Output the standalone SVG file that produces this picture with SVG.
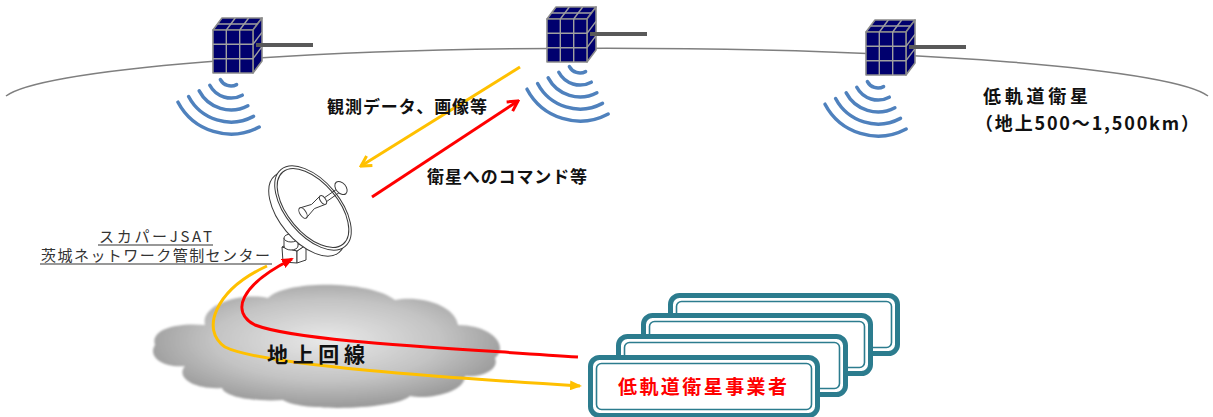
<svg xmlns="http://www.w3.org/2000/svg" xmlns:xlink="http://www.w3.org/1999/xlink" width="1213" height="417" viewBox="0 0 1213 417">
  <style>
    .orbit { fill: none; stroke: #7f7f7f; stroke-width: 1.5; }
    .face { fill: #00006e; stroke: #8a8a8a; stroke-width: 1.6; stroke-linejoin: round; }
    .grid { stroke: #a0a0a0; stroke-width: 1.4; }
    .boom { stroke: #595959; stroke-width: 4; }
    .wave { fill: none; stroke: #4f81bd; stroke-width: 3.5; stroke-linecap: round; }
    .ant { fill: #ffffff; stroke: #3a3a3a; stroke-width: 1; stroke-linejoin: round; }
    .jp { font-family: "Noto Sans CJK JP", "Noto Sans", sans-serif; }
    .lbl { font-size: 17px; font-weight: bold; fill: #111111; }
    .stn { font-size: 15px; fill: #333333; }
    .uline { stroke: #333333; stroke-width: 1.2; }
    .yel { fill: none; stroke: #ffc000; stroke-width: 3; }
    .red { fill: none; stroke: #ff0000; stroke-width: 3; }
    .boxOuter { fill: #ffffff; stroke: #2c7c8e; stroke-width: 5; }
    .boxInner { fill: none; stroke: #2c7c8e; stroke-width: 1.6; }
  </style>
  <defs>
    <!-- cube satellite with side boom, origin at front face top-left -->
    <g id="sat-shape">
      <polygon class="face" points="0,0 40,0 49,-12 9,-12"/>
      <polygon class="face" points="40,0 49,-12 49,31 40,43"/>
      <rect class="face" x="0" y="0" width="40" height="43"/>
      <line class="grid" x1="13.3" y1="0" x2="13.3" y2="43"/>
      <line class="grid" x1="26.7" y1="0" x2="26.7" y2="43"/>
      <line class="grid" x1="0" y1="14.3" x2="40" y2="14.3"/>
      <line class="grid" x1="0" y1="28.7" x2="40" y2="28.7"/>
      <line class="grid" x1="13.3" y1="0" x2="22.3" y2="-12"/>
      <line class="grid" x1="26.7" y1="0" x2="35.7" y2="-12"/>
      <line class="grid" x1="4.5" y1="-6" x2="44.5" y2="-6"/>
      <line class="grid" x1="40" y1="14.3" x2="49" y2="2.3"/>
      <line class="grid" x1="40" y1="28.7" x2="49" y2="16.7"/>
      <line class="boom" x1="43" y1="15" x2="100" y2="15"/>
    </g>
    <!-- radio waves, concentric arcs around (0,0) -->
    <g id="waves">
      <path class="wave" d="M -10.6 5.6 A 12 12 0 0 0 5.6 10.6"/>
      <path class="wave" d="M -21.2 11.3 A 24 24 0 0 0 11.3 21.2"/>
      <path class="wave" d="M -31.8 16.9 A 36 36 0 0 0 16.9 31.8"/>
      <path class="wave" d="M -42.4 22.5 A 48 48 0 0 0 22.5 42.4"/>
      <path class="wave" d="M -53 28.2 A 60 60 0 0 0 28.2 53"/>
    </g>
    <radialGradient id="cloudGrad" cx="50%" cy="45%" r="55%">
      <stop offset="0" stop-color="#e9e9e9"/>
      <stop offset="0.6" stop-color="#c3c3c3"/>
      <stop offset="1" stop-color="#999999"/>
    </radialGradient>
    <filter id="soft" x="-5%" y="-5%" width="110%" height="110%">
      <feGaussianBlur stdDeviation="0.8"/>
    </filter>
    <marker id="chevY" viewBox="0 0 14 14" refX="12" refY="7" markerWidth="14" markerHeight="14" markerUnits="userSpaceOnUse" orient="auto">
      <path d="M2,1.5 L12,7 L2,12.5" fill="none" stroke="#ffc000" stroke-width="3"/>
    </marker>
    <marker id="chevR" viewBox="0 0 14 14" refX="12" refY="7" markerWidth="14" markerHeight="14" markerUnits="userSpaceOnUse" orient="auto">
      <path d="M2,1.5 L12,7 L2,12.5" fill="none" stroke="#ff0000" stroke-width="3"/>
    </marker>
    <marker id="triY" viewBox="0 0 12 10" refX="10" refY="5" markerWidth="12" markerHeight="10" markerUnits="userSpaceOnUse" orient="auto">
      <path d="M0,0 L12,5 L0,10 Z" fill="#ffc000"/>
    </marker>
    <marker id="triR" viewBox="0 0 12 10" refX="10" refY="5" markerWidth="12" markerHeight="10" markerUnits="userSpaceOnUse" orient="auto">
      <path d="M0,0 L12,5 L0,10 Z" fill="#ff0000"/>
    </marker>
  </defs>

  <rect x="0" y="0" width="1213" height="417" fill="#ffffff"/>

  <!-- low earth orbit -->
  <path class="orbit" d="M 6 96 A 605 54 0 0 1 1208 96"/>

  <g id="satellite-1">
    <use xlink:href="#sat-shape" transform="translate(213,30)"/>
    <use xlink:href="#waves" transform="translate(231,74)"/>
  </g>
  <g id="satellite-2">
    <use xlink:href="#sat-shape" transform="translate(547,19)"/>
    <use xlink:href="#waves" transform="translate(580,61)"/>
  </g>
  <g id="satellite-3">
    <use xlink:href="#sat-shape" transform="translate(866,32)"/>
    <use xlink:href="#waves" transform="translate(878,76)"/>
  </g>

  <g id="leo-label" class="jp" font-weight="bold" fill="#111111">
    <text x="983" y="103" font-size="18" textLength="105" lengthAdjust="spacing">低軌道衛星</text>
    <text x="975" y="130" font-size="18" textLength="224" lengthAdjust="spacing">（地上500～1,500km）</text>
  </g>

  <!-- ground station antenna -->
  <g id="ground-station">
    <polygon class="ant" points="282,247 297,251 297,263 283,262"/>
    <polygon class="ant" points="297,251 306,245 306,260 297,263"/>
    <polygon class="ant" points="282,247 290,243 306,245 297,251"/>
    <path class="ant" d="M 284 238 L 284 246 A 7 4 0 0 0 298 246 L 298 238"/>
    <ellipse class="ant" cx="291" cy="238" rx="7" ry="4"/>
    <ellipse class="ant" cx="307" cy="214" rx="50" ry="27" transform="rotate(50 307 214)"/>
    <ellipse class="ant" cx="313" cy="208" rx="50" ry="27" transform="rotate(50 313 208)"/>
    <ellipse class="ant" cx="313" cy="208" rx="47" ry="25" transform="rotate(50 313 208)"/>
    <line class="ant" x1="324" y1="198" x2="337" y2="189"/>
    <line class="ant" x1="326" y1="202" x2="340" y2="192"/>
    <polygon class="ant" points="299.7,208 311.6,204.4 320.2,195.8 325.8,204.2 314.4,208.6 306.3,218"/>
    <ellipse class="ant" cx="303" cy="213" rx="6" ry="3" transform="rotate(56 303 213)"/>
    <ellipse class="ant" cx="323" cy="200" rx="5" ry="2.6" transform="rotate(56 323 200)"/>
    <ellipse class="ant" cx="341" cy="188" rx="7.5" ry="5" transform="rotate(50 341 188)"/>
  </g>

  <g id="station-label" class="jp stn">
    <text x="99" y="242" textLength="113" lengthAdjust="spacing">スカパーJSAT</text>
    <text x="41" y="261" textLength="229" lengthAdjust="spacing">茨城ネットワーク管制センター</text>
    <line class="uline" x1="98" y1="245" x2="213" y2="245"/>
    <line class="uline" x1="40" y1="264" x2="272" y2="264"/>
  </g>

  <!-- terrestrial network cloud -->
  <g id="ground-line">
    <path fill="url(#cloudGrad)" filter="url(#soft)" d="M 155 345 C 150 330, 175 322, 205 325 C 200 305, 240 292, 268 298 C 285 280, 370 280, 395 300 C 420 295, 455 305, 458 325 C 490 325, 510 345, 495 358 C 500 370, 480 378, 465 376 C 465 392, 430 400, 410 396 C 395 410, 300 412, 283 400 C 260 402, 225 398, 222 388 C 195 390, 175 378, 185 366 C 160 368, 148 355, 155 345 Z"/>
  </g>

  <!-- operator boxes, back to front -->
  <g id="operator-4">
    <rect class="boxOuter" x="670.5" y="295.5" width="227" height="58" rx="9"/>
    <rect class="boxInner" x="676.5" y="301.5" width="215" height="46" rx="5"/>
  </g>
  <g id="operator-3">
    <rect class="boxOuter" x="643.5" y="315.5" width="227" height="58" rx="9"/>
    <rect class="boxInner" x="649.5" y="321.5" width="215" height="46" rx="5"/>
  </g>
  <g id="operator-2">
    <rect class="boxOuter" x="618.5" y="336.5" width="227" height="58" rx="9"/>
    <rect class="boxInner" x="624.5" y="342.5" width="215" height="46" rx="5"/>
  </g>
  <g id="operator-1">
    <rect class="boxOuter" x="590.5" y="357.5" width="227" height="58" rx="9"/>
    <rect class="boxInner" x="596.5" y="363.5" width="215" height="46" rx="5"/>
    <text class="jp" x="618" y="394" font-size="19" font-weight="bold" fill="#ff0000" textLength="169" lengthAdjust="spacing">低軌道衛星事業者</text>
  </g>

  <g id="connectors">
    <line class="yel" x1="520" y1="67" x2="361" y2="166" marker-end="url(#chevY)"/>
    <line class="red" x1="372" y1="197" x2="518" y2="101" marker-end="url(#chevR)"/>
    <path class="yel" d="M 267 266 C 215 290, 200 330, 225 347 C 260 365, 450 378, 580 386" marker-end="url(#triY)"/>
    <path class="red" d="M 578 357 C 450 348, 300 342, 255 325 C 230 312, 240 285, 292 259" marker-end="url(#triR)"/>
  </g>

  <g id="link-labels" class="jp lbl">
    <text x="327" y="113" textLength="160" lengthAdjust="spacing">観測データ、画像等</text>
    <text x="427" y="183" textLength="160" lengthAdjust="spacing">衛星へのコマンド等</text>
  </g>

  <g id="ground-line-label">
    <text class="jp" x="267" y="362" font-size="21" font-weight="bold" fill="#111111" textLength="98" lengthAdjust="spacing">地上回線</text>
  </g>
</svg>
